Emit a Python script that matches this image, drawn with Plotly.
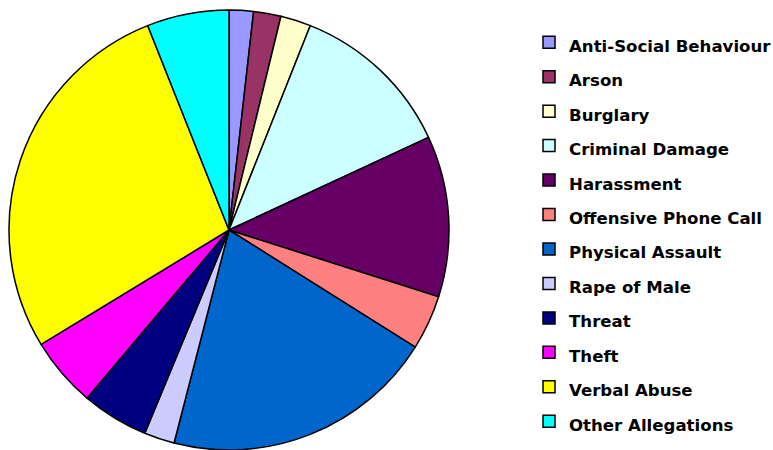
import plotly.graph_objects as go

categories = [
    "Anti-Social Behaviour", "Arson", "Burglary", "Criminal Damage",
    "Harassment", "Offensive Phone Call", "Physical Assault", "Rape of Male",
    "Threat", "Theft", "Verbal Abuse", "Other Allegations",
]
counts = [8, 9, 10, 54, 53, 18, 90, 10, 22, 23, 124, 27]
colors = [
    "#9999FF", "#993366", "#FFFFCC", "#CCFFFF", "#660066", "#FF8080",
    "#0066CC", "#CCCCFF", "#000080", "#FF00FF", "#FFFF00", "#00FFFF",
]

W, H = 773, 450
label_font_px = 16.6

fig = go.Figure(
    go.Pie(
        labels=[f'<span style="font-size:{label_font_px}px">{c}</span>' for c in categories],
        values=counts,
        marker=dict(colors=colors, line=dict(color="#000000", width=1.5)),
        sort=False,
        direction="clockwise",
        rotation=0,
        textinfo="none",
        hoverinfo="label+value+percent",
        domain=dict(x=[9 / W, 449 / W], y=[0, 1]),
    )
)

fig.update_layout(
    width=W,
    height=H,
    margin=dict(l=0, r=0, t=10, b=0, autoexpand=False),
    paper_bgcolor="white",
    plot_bgcolor="white",
    showlegend=True,
    legend=dict(
        x=529 / W,
        xanchor="left",
        y=1 - 10 / 440,
        yanchor="top",
        font=dict(family="Comic Sans MS, DejaVu Sans, sans-serif", size=24.2,
                  color="#000000", weight="bold"),
        bgcolor="rgba(0,0,0,0)",
        borderwidth=0,
        traceorder="normal",
    ),
)

fig.write_html("out.html")
